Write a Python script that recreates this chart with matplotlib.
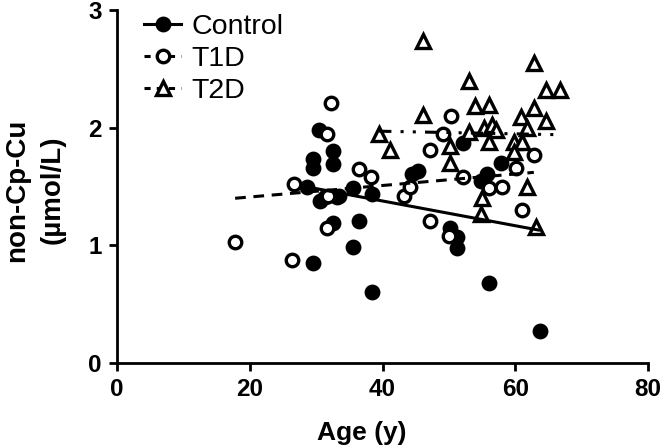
import numpy as np
import matplotlib
matplotlib.use("Agg")
import matplotlib.pyplot as plt

plt.rcParams["font.family"] = ["Liberation Sans", "DejaVu Sans"]

# ---- data (age in years, non-Cp-Cu in umol/L) ----
control_age = [30.4, 32.5, 29.5, 29.5, 32.5, 28.6, 30.6, 31.3, 33.1, 33.5,
               35.5, 38.4, 32.6, 36.4, 35.5, 29.5, 38.4, 44.5, 45.3, 52.1,
               55.8, 54.9, 57.9, 50.1, 51.2, 51.2, 56.0, 63.8]
control_cu = [1.98, 1.80, 1.73, 1.66, 1.69, 1.50, 1.38, 1.41, 1.41, 1.42,
              1.49, 1.44, 1.19, 1.21, 0.99, 0.85, 0.60, 1.61, 1.63, 1.87,
              1.61, 1.55, 1.70, 1.15, 1.07, 0.98, 0.68, 0.27]

t1d_age = [17.8, 26.4, 26.6, 31.6, 32.3, 36.4, 38.3, 31.6, 43.2, 44.2,
           47.2, 49.1, 50.3, 52.1, 56.1, 58.0, 60.1, 62.8, 61.0, 47.2,
           50.0, 31.8]
t1d_cu = [1.03, 0.875, 1.52, 1.95, 2.21, 1.65, 1.58, 1.15, 1.42, 1.50,
          1.81, 1.95, 2.10, 1.58, 1.49, 1.50, 1.66, 1.77, 1.30, 1.21,
          1.08, 1.42]

t2d_age = [46.1, 53.1, 62.9, 64.7, 66.8, 53.9, 56.1, 62.9, 64.7, 60.8,
           61.7, 59.8, 61.0, 59.8, 46.1, 41.2, 39.5, 50.1, 50.1, 53.1,
           55.3, 56.5, 57.1, 56.1, 55.0, 61.7, 54.9, 63.1]
t2d_cu = [2.74, 2.40, 2.55, 2.32, 2.32, 2.18, 2.19, 2.17, 2.06, 2.09,
          2.00, 1.88, 1.88, 1.79, 2.11, 1.81, 1.95, 1.84, 1.70, 1.96,
          2.00, 2.02, 1.98, 1.88, 1.40, 1.50, 1.27, 1.16]

# regression line end points (age range, fitted values)
control_fit_x = [28.3, 63.5]
control_fit_y = [1.50, 1.13]
t1d_fit_x = [17.8, 62.8]
t1d_fit_y = [1.40, 1.62]
t2d_fit_x = [39.5, 66.8]
t2d_fit_y = [1.97, 1.94]

fig = plt.figure(figsize=(6.6, 4.46), dpi=100)
ax = fig.add_axes([117 / 660, 83 / 446, 531 / 660, 353 / 446])

ms = 9.0
mew = 2.4
ax.plot(control_age, control_cu, ls="none", marker="o", ms=ms,
        mfc="black", mec="black", mew=mew, zorder=3)
ax.plot(t1d_age, t1d_cu, ls="none", marker="o", ms=ms,
        mfc="white", mec="black", mew=mew, zorder=3)
ax.plot(t2d_age, t2d_cu, ls="none", marker="^", ms=ms + 1.5,
        mfc="white", mec="black", mew=mew, zorder=3)

ax.plot(control_fit_x, control_fit_y, color="black", lw=2.2, zorder=4)
ax.plot(t1d_fit_x, t1d_fit_y, color="black", lw=2.2, ls=(0, (3.5, 2.5)), zorder=4)
ax.plot(t2d_fit_x, t2d_fit_y, color="black", lw=2.2,
        ls=(0, (4, 3, 1, 3, 1, 3)), zorder=4)

# legend handles: line with marker through it
h1, = ax.plot([], [], color="black", lw=2.2, marker="o", ms=ms,
              mfc="black", mec="black", mew=mew)
h2, = ax.plot([], [], color="black", lw=2.2, ls=(0, (2, 2)), marker="o", ms=ms,
              mfc="white", mec="black", mew=mew)
h3, = ax.plot([], [], color="black", lw=2.2, ls=(0, (2, 2)), marker="^", ms=ms + 1,
              mfc="white", mec="black", mew=mew)
ax.legend([h1, h2, h3], ["Control", "T1D", "T2D"], loc="upper left",
          bbox_to_anchor=(0.03, 1.02), frameon=False, fontsize=20.5,
          handlelength=1.3, handletextpad=0.35, labelspacing=0.2,
          borderaxespad=0, numpoints=1)

ax.set_xlim(0, 80)
ax.set_ylim(0, 3)
ax.set_xticks([0, 20, 40, 60, 80])
ax.set_yticks([0, 1, 2, 3])
for s in ["top", "right"]:
    ax.spines[s].set_visible(False)
for s in ["left", "bottom"]:
    ax.spines[s].set_linewidth(2.0)
ax.tick_params(direction="out", length=6, width=2.0, labelsize=17.5, pad=5)
for lab in ax.get_xticklabels() + ax.get_yticklabels():
    lab.set_fontweight("bold")

ax.set_xlabel("Age (y)", fontsize=19, fontweight="bold")
ax.xaxis.set_label_coords(0.46, -0.165)
ax.set_ylabel("non-Cp-Cu\n(µmol/L)", fontsize=20, fontweight="bold",
              linespacing=1.45)
ax.yaxis.set_label_coords(-0.097, 0.49)

fig.savefig("out.png", dpi=100)
